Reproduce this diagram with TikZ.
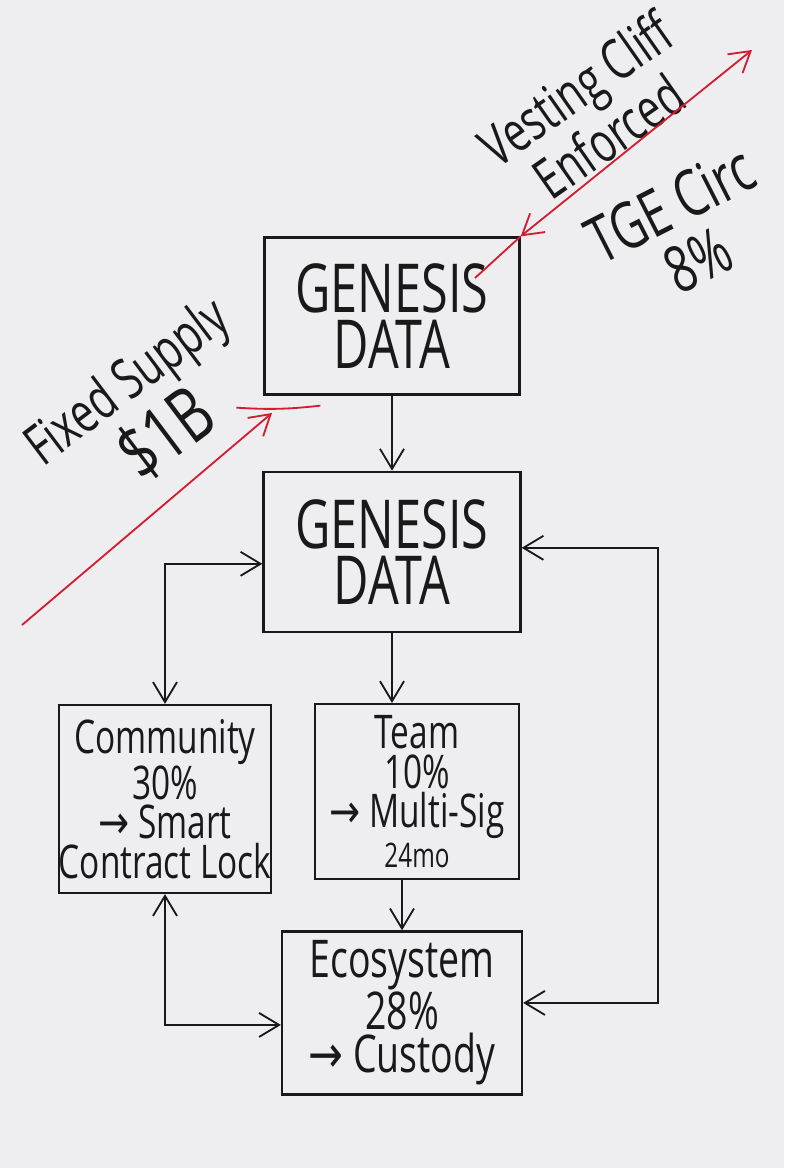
\documentclass[tikz,border=0pt]{standalone}
\usepackage{fontspec}
\newfontfamily\hand[FakeStretch=0.72]{Open Sans}
\newfontfamily\symb[FakeStretch=0.8]{DejaVu Sans}
\usetikzlibrary{positioning, arrows.meta}
\definecolor{paper}{RGB}{238,238,240}
\definecolor{ink}{RGB}{25,25,25}
\definecolor{redink}{RGB}{212,28,48}

\begin{document}
\begin{tikzpicture}[
    x=0.025cm, y=-0.025cm,
    >={Straight Barb[length=5mm,width=6mm]},
    box/.style={rectangle, draw=ink, line width=1.6pt, inner sep=0pt,
      align=center, text=ink},
    bigtext/.style={font=\hand\fontsize{48}{40}\selectfont},
    smalltext/.style={font=\hand\fontsize{33}{28}\selectfont},
    note/.style={text=ink, align=center, font=\hand\fontsize{40}{40}\selectfont},
    link/.style={draw=ink, line width=1.3pt, ->},
    biline/.style={link, <->},
    redline/.style={draw=redink, line width=1.3pt}
  ]
  \useasboundingbox (0,0) rectangle (784,1168);
  \fill [paper] (0,0) rectangle (784,1168);

  % boxes
  \node [box, bigtext, minimum width=6.375cm, minimum height=3.925cm] (gen1)
    at (392,316) {GENESIS\\DATA};
  \node [box, bigtext, minimum width=6.425cm, minimum height=4cm,
    below=1.875cm of gen1] (gen2) {GENESIS\\DATA};
  \node [box, smalltext, minimum width=5.15cm, minimum height=4.7cm] (comm)
    at (165,799) {Community\\30\%\\{\symb →} Smart\\Contract Lock};
  \node [box, smalltext, minimum width=5.1cm, minimum height=4.375cm,
    below=1.75cm of gen2, xshift=0.625cm] (team)
    {Team\\10\%\\{\symb →} Multi-Sig\\{\fontsize{24}{24}\selectfont 24mo}};
  \node [box, smalltext, minimum width=6cm, minimum height=4.075cm,
    below=1.25cm of team, xshift=-0.375cm, font=\hand\fontsize{37}{31}\selectfont] (eco)
    {Ecosystem\\28\%\\{\symb →} Custody};

  % side notes
  \node [note, rotate=35] (vest) at (592,112) {Vesting Cliff\\Enforced};
  \node [note, rotate=27, font=\hand\fontsize{46}{44}\selectfont] (tge)
    at (684,232) {TGE Circ\\8\%};
  \node [note, rotate=37] (supply) at (148,410)
    {Fixed Supply\\{\fontsize{54}{50}\selectfont\$1B}};

  % flow
  \path [link] (gen1) -- (gen2);
  \path [link] (gen2.south) -- (gen2.south |- team.north);
  \path [link] (eco.north |- team.south) -- (eco.north);
  \path [biline] (comm.north) |- ([yshift=-0.3cm]gen2.west);
  \path [biline] (comm.south) |- ([yshift=-0.3cm]eco.west);
  \coordinate (loop) at (658,0);
  \path [biline] ([yshift=0.25cm]eco.east) -- ([yshift=0.25cm]eco.east -| loop)
    |- ([yshift=0.1cm]gen2.east);

  % red marks
  \coordinate (vtop) at (752,50);
  \coordinate (vend) at (475,278);
  \draw [redline, <->] (gen1.north east) -- (vtop);
  \draw [redline] (gen1.north east) -- (vend);
  \coordinate (stail) at (22,625);
  \coordinate (stip) at (272,413);
  \draw [redline, ->] (stail) -- (stip);
  \draw [redline] ([shift={(-27,12)}]gen1.south west) to[bend right=5]
    ([shift={(57,10)}]gen1.south west);
\end{tikzpicture}
\end{document}
